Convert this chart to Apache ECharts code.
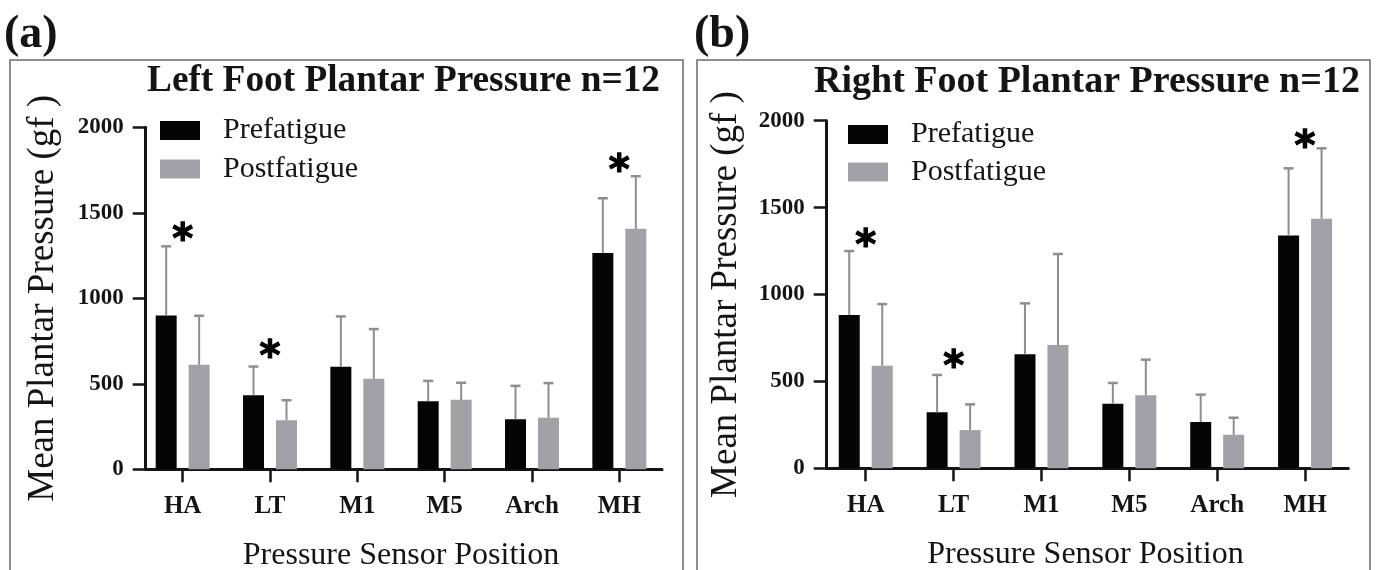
<!DOCTYPE html>
<html>
<head>
<meta charset="utf-8">
<script src="https://cdn.jsdelivr.net/npm/echarts@6/dist/echarts.min.js"></script>
<style>
html,body{margin:0;padding:0;background:#fff;}
#chart{width:1376px;height:570px;}
</style>
</head>
<body>
<div id="chart"></div>
<script>
// ---- data ----
const categories = ['HA', 'LT', 'M1', 'M5', 'Arch', 'MH'];
const yTicks = [0, 500, 1000, 1500, 2000];

const leftPre = [900, 433, 599, 398, 293, 1265];
const leftPreSD = [404, 168, 295, 119, 195, 320];
const leftPost = [611, 287, 529, 406, 302, 1406];
const leftPostSD = [287, 117, 291, 100, 202, 308];
const leftStars = [['HA', 1396], ['LT', 711], ['MH', 1802]];

const rightPre = [882, 322, 656, 372, 266, 1340];
const rightPreSD = [368, 215, 293, 119, 158, 386];
const rightPost = [590, 220, 709, 420, 193, 1436];
const rightPostSD = [355, 148, 524, 205, 98, 405];
const rightStars = [['HA', 1333], ['LT', 639], ['MH', 1902]];

const titles = ['Left Foot Plantar Pressure n=12', 'Right Foot Plantar Pressure n=12'];
const panelTags = ['(a)', '(b)'];
const seriesNames = ['Prefatigue', 'Postfatigue'];
const yName = 'Mean Plantar Pressure (gf )';
const xName = 'Pressure Sensor Position';

// ---- style ----
const SERIF = '"Liberation Serif","Times New Roman",serif';
const INK = '#141414';
const PRE_COLOR = '#050505';
const POST_COLOR = '#a2a2a6';
const ERR_COLOR = '#8e8e8e';
const BAR_W = 21, BAR_GAP = 12;
const DX = (BAR_W + BAR_GAP) / 2;

function errRender(dx) {
  return function (params, api) {
    const c = api.value(0), m = api.value(1), s = api.value(2);
    const p0 = api.coord([c, m]);
    const p1 = api.coord([c, m + s]);
    const x = p0[0] + dx;
    return {
      type: 'group',
      children: [
        { type: 'line', shape: { x1: x, y1: p0[1], x2: x, y2: p1[1] }, style: { stroke: ERR_COLOR, lineWidth: 2 } },
        { type: 'line', shape: { x1: x - 5, y1: p1[1], x2: x + 5, y2: p1[1] }, style: { stroke: ERR_COLOR, lineWidth: 2.5 } }
      ]
    };
  };
}
function errData(mean, sd) { return categories.map((c, i) => [i, mean[i], sd[i]]); }

const panels = [
  { grid: { left: 139, right: 713, top: 127.3, bottom: 100.7 }, yOffset: -6.7, lineGrid: { left: 145.7, right: 714, top: 127.3, bottom: 100.7 },
    pre: leftPre, preSD: leftPreSD, post: leftPost, postSD: leftPostSD, stars: leftStars, nameGap: 84,
    legend: { left: 160, top: 115.5, itemGap: 8.5 }, title: { left: 147, top: 63, size: 37.3 }, tag: { left: 4, top: 12 },
    box: { x: 10, y: 60, width: 673, height: 530 } },
  { grid: { left: 821.8, right: 27, top: 120.7, bottom: 101.7 }, yOffset: -4.9, lineGrid: { left: 826.7, right: 27.7, top: 120.7, bottom: 101.7 },
    pre: rightPre, preSD: rightPreSD, post: rightPost, postSD: rightPostSD, stars: rightStars, nameGap: 82,
    legend: { left: 848, top: 119.5, itemGap: 7.5 }, title: { left: 814, top: 63, size: 38 }, tag: { left: 694, top: 12 },
    box: { x: 697, y: 60, width: 673, height: 530 } }
];

const option = {
  animation: false,
  backgroundColor: '#fff',
  title: [], legend: [], grid: [], xAxis: [], yAxis: [], series: [],
  graphic: []
};

panels.forEach((p, k) => {
  option.title.push({
    text: titles[k], left: p.title.left, top: p.title.top, padding: 0,
    textStyle: { fontFamily: SERIF, fontWeight: 'bold', fontSize: p.title.size, color: INK }
  });
  option.title.push({
    text: panelTags[k], left: p.tag.left, top: p.tag.top, padding: 0,
    textStyle: { fontFamily: SERIF, fontWeight: 'bold', fontSize: 46, color: INK }
  });
  option.graphic.push({
    type: 'rect', shape: p.box, silent: true, z: 0,
    style: { fill: 'none', stroke: '#6a6a6a', lineWidth: 1.5 }
  });
  option.legend.push({
    orient: 'vertical', left: p.legend.left, top: p.legend.top, padding: 0,
    itemGap: p.legend.itemGap, itemWidth: 40, itemHeight: 19, icon: 'rect',
    data: seriesNames,
    textStyle: { fontFamily: SERIF, fontSize: 30, color: INK, padding: [0, 0, 0, 18] }
  });
  option.grid.push(Object.assign({ outerBoundsMode: 'none' }, p.grid));
  option.xAxis.push({
    type: 'category', gridIndex: k, data: categories,
    axisLine: { show: false },
    axisTick: { show: true, alignWithLabel: true, length: 13, lineStyle: { color: INK, width: 2.5 } },
    axisLabel: { fontFamily: SERIF, fontWeight: 'bold', fontSize: 25, color: INK, margin: 25 },
    name: xName, nameLocation: 'middle', nameGap: 70,
    nameTextStyle: { fontFamily: SERIF, fontSize: 32, color: INK },
    splitLine: { show: false }
  });
  option.yAxis.push({
    type: 'value', gridIndex: k, min: yTicks[0], max: yTicks[yTicks.length - 1], interval: yTicks[1] - yTicks[0],
    offset: p.yOffset,
    axisLine: { show: true, lineStyle: { color: INK, width: 3 } },
    axisTick: { show: true, length: 13, lineStyle: { color: INK, width: 2.5 } },
    axisLabel: { fontFamily: SERIF, fontWeight: 'bold', fontSize: 23, color: INK, margin: 22,
      formatter: v => String(v) },
    splitLine: { show: false },
    name: yName, nameLocation: 'middle', nameGap: p.nameGap, nameRotate: 90,
    nameTextStyle: { fontFamily: SERIF, fontSize: 37, color: INK }
  });
  option.series.push({
    type: 'bar', name: seriesNames[0], xAxisIndex: k, yAxisIndex: k, data: p.pre,
    barWidth: BAR_W, barGap: Math.round(BAR_GAP / BAR_W * 100) + '%',
    itemStyle: { color: PRE_COLOR }, z: 2
  });
  option.series.push({
    type: 'bar', name: seriesNames[1], xAxisIndex: k, yAxisIndex: k, data: p.post,
    barWidth: BAR_W, barGap: Math.round(BAR_GAP / BAR_W * 100) + '%',
    itemStyle: { color: POST_COLOR }, z: 2
  });
  option.series.push({
    type: 'custom', xAxisIndex: k, yAxisIndex: k, renderItem: errRender(-DX),
    data: errData(p.pre, p.preSD), encode: { x: 0, y: 1 }, z: 3
  });
  option.series.push({
    type: 'custom', xAxisIndex: k, yAxisIndex: k, renderItem: errRender(DX),
    data: errData(p.post, p.postSD), encode: { x: 0, y: 1 }, z: 3
  });
  option.series.push({
    type: 'scatter', xAxisIndex: k, yAxisIndex: k, data: p.stars,
    symbol: 'circle', symbolSize: 2, itemStyle: { color: 'rgba(0,0,0,0)' },
    label: { show: true, position: 'inside', formatter: '*', offset: [0, 11],
      fontFamily: '"DejaVu Sans",sans-serif', fontWeight: 'bold', fontSize: 40, color: '#000',
      opacity: 1, textBorderColor: '#000', textBorderWidth: 1.2 },
    z: 4
  });
});

panels.forEach((p, k) => {
  option.grid.push(Object.assign({ outerBoundsMode: 'none' }, p.lineGrid));
  option.xAxis.push({
    type: 'value', gridIndex: 2 + k, min: 0, max: 1,
    axisLine: { show: true, lineStyle: { color: INK, width: 3 } },
    axisTick: { show: false }, axisLabel: { show: false }, splitLine: { show: false }
  });
  option.yAxis.push({ type: 'value', gridIndex: 2 + k, min: 0, max: 1, show: false });
});

const chart = echarts.init(document.getElementById('chart'), null, { renderer: 'canvas' });
chart.setOption(option);
</script>
</body>
</html>
